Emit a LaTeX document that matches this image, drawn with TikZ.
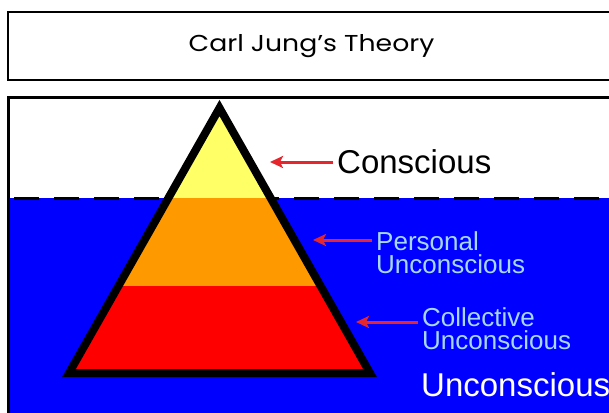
\documentclass[tikz,border=0pt]{standalone}
\usepackage{fontspec}
\setmainfont{Poppins}
\newfontfamily\labelfont{Liberation Sans}
\usetikzlibrary{arrows.meta}

\definecolor{seablue}{HTML}{0000FF}
\definecolor{tipyellow}{HTML}{FFFF66}
\definecolor{midorange}{HTML}{FF9900}
\definecolor{deepred}{HTML}{FF0000}
\definecolor{pointred}{HTML}{E5262C}
\definecolor{paleblue}{HTML}{A6D8FF}

\begin{document}
\begin{tikzpicture}[
    x=1pt,y=-1pt,
    frame/.style={draw=black,line width=2pt},
    arrow/.style={-{Stealth[length=13pt,width=12pt,inset=3pt]},draw=pointred,
        line width=3pt,shorten <=4pt},
    bigtext/.style={font=\labelfont\fontsize{33}{33}\selectfont,inner sep=0pt,anchor=west},
    levelnote/.style={font=\labelfont\fontsize{26}{23}\selectfont,text=paleblue,
        align=left,inner sep=0pt,anchor=west}
]
% Pixel grid of the 609x412 canvas, y grows downwards.
\clip (0,0) rectangle (609,412);
\fill[white] (0,0) rectangle (609,412);

\draw[frame] (8,12) rectangle (615,80);
\node[font=\fontsize{23}{23}\selectfont] (title) at (311.5,46)
    {\scalebox{1.16}[1]{Carl Jung’s Theory}};

\coordinate (apex) at (219.5,108);
\coordinate (left) at (69,373);
\coordinate (right) at (370,373);

% Water below the surface line.
\fill[seablue] (9,198) rectangle (612,415);
\draw[line width=3pt,dash pattern=on 25pt off 15pt,dash phase=-4pt] (10,198) -- (612,198);

\begin{scope}
    \clip (apex) -- (left) -- (right) -- cycle;
    \fill[tipyellow] (0,90) rectangle (609,198);
    \fill[midorange] (0,198) rectangle (609,286);
    \fill[deepred] (0,286) rectangle (609,380);
\end{scope}
\draw[line width=8pt,line join=miter] (apex) -- (left) -- (right) -- cycle;

\draw[black,line width=3pt] (8.5,430) -- (8.5,97.5) -- (615,97.5);

\node[bigtext] (conscious) at (337,162) {Conscious};
\node[levelnote] (personal) at (376,252.5) {Personal\\Unconscious};
\node[levelnote] (collective) at (422,328.5) {Collective\\Unconscious};
\node[bigtext,text=white] (unconscious) at (421,385) {Unconscious};

\coordinate (consciousTip) at (270,162);
\coordinate (personalTip) at (313,240);
\coordinate (collectiveTip) at (356,322);

\draw[arrow] (conscious.west) -- (consciousTip);
\draw[arrow] ([yshift=12.5pt]personal.west) -- (personalTip);
\draw[arrow] ([yshift=6.5pt]collective.west) -- (collectiveTip);
\end{tikzpicture}
\end{document}
